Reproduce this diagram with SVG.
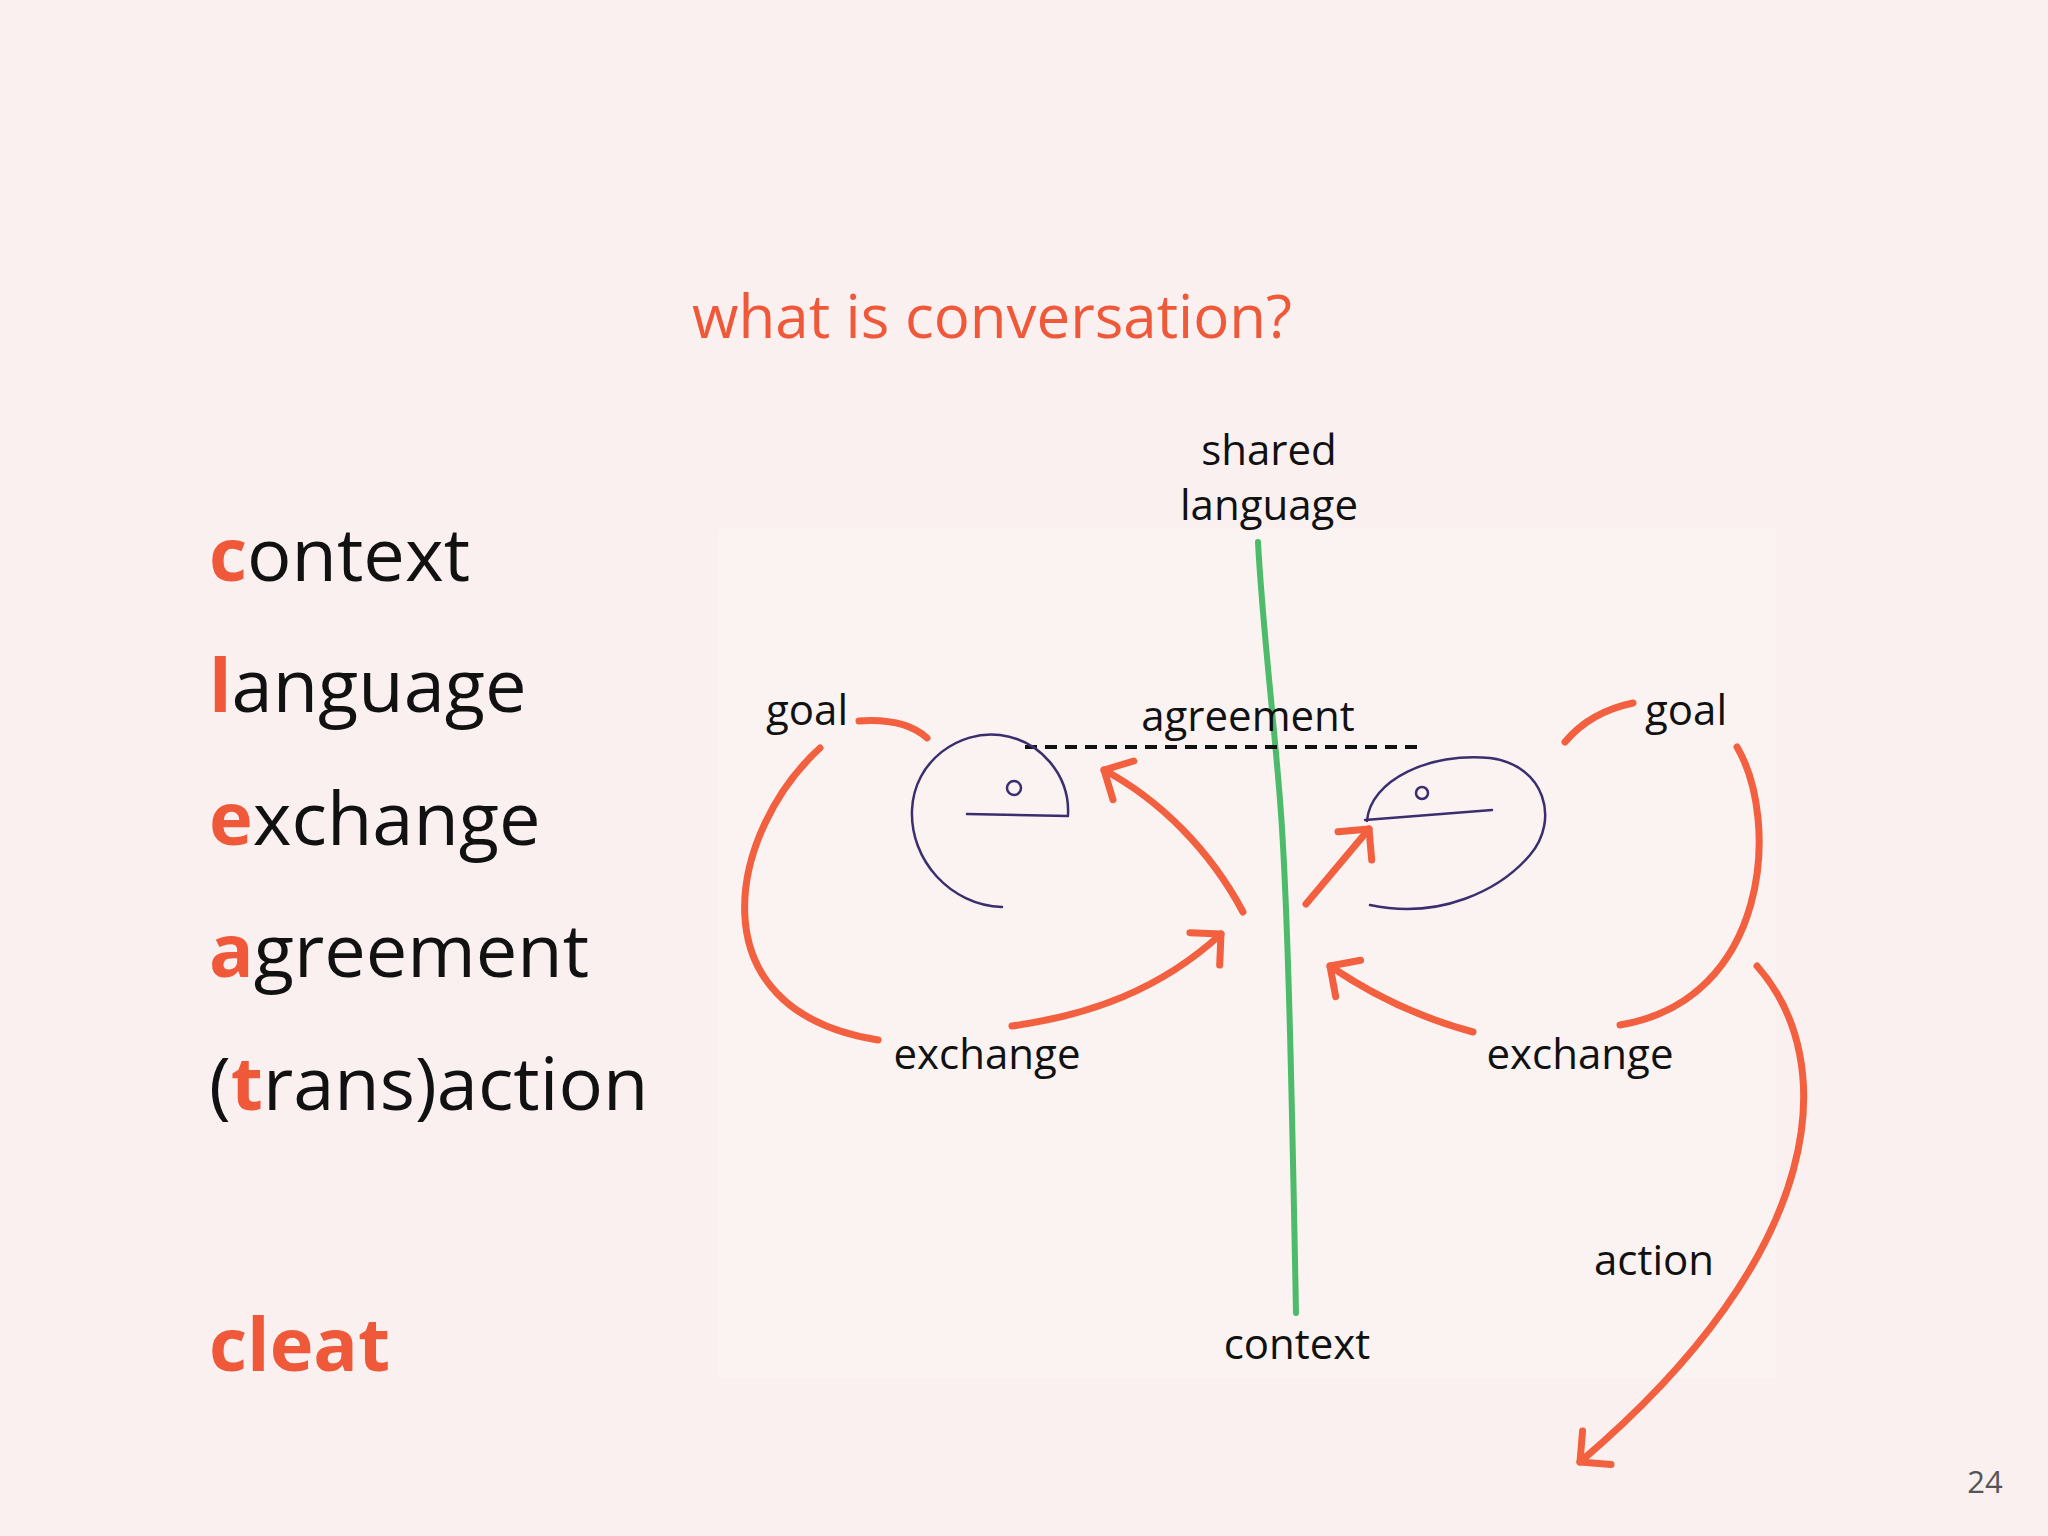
<svg xmlns="http://www.w3.org/2000/svg" width="2048" height="1536" viewBox="0 0 2048 1536">
<style>
.t{font-family:"Open Sans","Noto Sans",sans-serif;}
.lst{font-family:"Open Sans","Noto Sans",sans-serif;font-size:74px;fill:#111;}
.r{fill:#f0583a;font-weight:bold;}
.lab{font-family:"Open Sans","Noto Sans",sans-serif;font-size:42px;fill:#111;text-anchor:middle;}
.arr{fill:none;stroke:#f2603f;stroke-width:7;stroke-linecap:round;}
.head{fill:none;stroke:#3a2e6e;stroke-width:2.5;stroke-linecap:round;}
</style>
<defs>
<marker id="ah" markerUnits="userSpaceOnUse" markerWidth="60" markerHeight="60" refX="30" refY="30" orient="auto" viewBox="0 0 60 60">
<path d="M8,8 L30,30 L8,52" fill="none" stroke="#f2603f" stroke-width="7" stroke-linecap="round" stroke-linejoin="round"/>
</marker>
</defs>
<rect width="2048" height="1536" fill="#f9f0ef"/>
<rect x="718" y="529" width="1058" height="849" fill="#faf3f2"/>
<text class="t" x="692" y="338" font-size="60" fill="#f0583a">what is conversation?</text>
<g id="list">
<text class="lst" x="209" y="581"><tspan class="r">c</tspan>ontext</text>
<text class="lst" x="209" y="712"><tspan class="r">l</tspan>anguage</text>
<text class="lst" x="209" y="845"><tspan class="r">e</tspan>xchange</text>
<text class="lst" x="209" y="977"><tspan class="r">a</tspan>greement</text>
<text class="lst" x="209" y="1110">(<tspan class="r">t</tspan>rans)action</text>
<text class="lst r" x="209" y="1371">cleat</text>
</g>
<g id="connectors">
<path d="M1258,542 C1262,620 1272,700 1280,800 C1288,900 1292,1100 1296,1313" fill="none" stroke="#4dbb6a" stroke-width="6" stroke-linecap="round"/>
<line x1="1025" y1="747" x2="1421" y2="747" stroke="#111" stroke-width="4" stroke-dasharray="12,8"/>
<path class="arr" d="M859,721 Q905,718 927,738"/>
<path class="arr" d="M820,748 C730,830 690,1010 878,1040"/>
<path class="arr" d="M1012,1026 C1090,1015 1160,990 1221,934" marker-end="url(#ah)"/>
<path class="arr" d="M1243,912 C1210,850 1160,800 1104,770" marker-end="url(#ah)"/>
<path class="arr" d="M1306,904 L1369,829" marker-end="url(#ah)"/>
<path class="arr" d="M1473,1032 C1410,1015 1365,990 1330,966" marker-end="url(#ah)"/>
<path class="arr" d="M1565,742 Q1590,712 1633,703"/>
<path class="arr" d="M1737,747 C1780,820 1770,1000 1620,1025"/>
<path class="arr" d="M1757,966 C1840,1060 1830,1250 1580,1462" marker-end="url(#ah)"/>
</g>
<g id="head-left">
<path class="head" d="M1002,907 C950,905 910,860 912,810 C914,760 960,730 1000,735 C1040,740 1070,775 1068,815"/>
<path class="head" d="M967,814 L1068,816"/>
<circle class="head" cx="1014" cy="788" r="7"/>
</g>
<g id="head-right">
<path class="head" d="M1367,821 C1370,780 1430,752 1490,758 C1545,765 1560,820 1530,855 C1500,890 1440,920 1370,905"/>
<path class="head" d="M1365,820 L1492,810"/>
<circle class="head" cx="1422" cy="793" r="6"/>
</g>
<g id="labels">
<text class="lab" x="1269" y="465">shared</text>
<text class="lab" x="1269" y="520">language</text>
<text class="lab" x="807" y="725">goal</text>
<text class="lab" x="1248" y="731" fill="#333">agreement</text>
<text class="lab" x="1686" y="725">goal</text>
<text class="lab" x="987" y="1069">exchange</text>
<text class="lab" x="1580" y="1069">exchange</text>
<text class="lab" x="1654" y="1275">action</text>
<text class="lab" x="1297" y="1359">context</text>
</g>
<text class="t" x="1985" y="1493" font-size="31" fill="#555" text-anchor="middle">24</text>
</svg>
